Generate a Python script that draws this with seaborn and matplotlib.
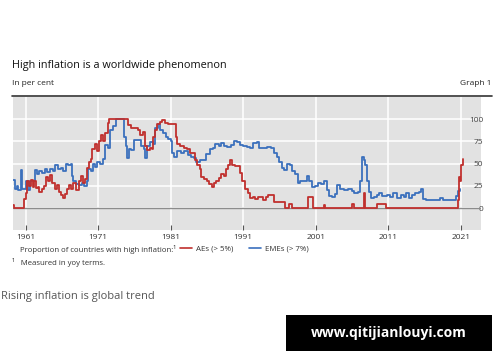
import pandas as pd
import matplotlib.pyplot as plt
import seaborn as sns
from matplotlib.lines import Line2D
from matplotlib.patches import Rectangle

# share of advanced economies with inflation above 5%
ae_years = [1959.3, 1959.4, 1960.5, 1960.8, 1961.0, 1961.2, 1961.5, 1961.8, 1962.0, 1962.2,
            1962.4, 1962.7, 1962.9, 1963.2, 1963.5, 1963.8, 1964.1, 1964.4, 1964.7, 1965.0,
            1965.3, 1965.6, 1965.9, 1966.2, 1966.4, 1966.7, 1967.0, 1967.3, 1967.6, 1968.0,
            1968.3, 1968.6, 1968.9, 1969.2, 1969.4, 1969.7, 1970.0, 1970.2, 1970.5, 1970.8,
            1971.1, 1971.4, 1971.7, 1972.0, 1972.3, 1972.5, 1975.0, 1975.1, 1975.5, 1976.0,
            1976.5, 1976.8, 1977.2, 1977.5, 1977.8, 1978.1, 1978.4, 1978.6, 1978.9, 1979.1,
            1979.5, 1979.8, 1980.2, 1980.6, 1981.1, 1981.5, 1981.7, 1981.9, 1982.3, 1982.8,
            1983.2, 1983.6, 1984.0, 1984.4, 1984.7, 1985.0, 1985.2, 1985.6, 1986.0, 1986.3,
            1986.7, 1987.0, 1987.3, 1987.7, 1988.0, 1988.3, 1988.6, 1988.9, 1989.2, 1989.5,
            1989.9, 1990.3, 1990.6, 1990.9, 1991.2, 1991.6, 1992.0, 1992.4, 1992.7, 1993.0,
            1993.5, 1993.8, 1994.2, 1994.4, 1995.1, 1995.3, 1996.6, 1996.8, 1997.3, 1997.7,
            1997.8, 1999.8, 1999.9, 2000.5, 2000.6, 2002.1, 2002.2, 2002.3, 2006.0, 2006.05,
            2006.3, 2006.35, 2007.4, 2007.6, 2007.8, 2009.4, 2009.5, 2010.6, 2010.7, 2020.4,
            2020.6, 2020.8, 2020.9, 2021.1, 2021.3]
ae_share = [4, 0, 0, 10, 17, 30, 25, 32, 24, 31,
            23, 24, 18, 22, 25, 35, 30, 37, 28, 22,
            26, 18, 15, 12, 16, 22, 26, 22, 28, 20,
            30, 36, 28, 33, 45, 52, 55, 66, 72, 64,
            75, 82, 75, 85, 96, 100, 100, 94, 90, 90,
            88, 82, 86, 70, 65, 68, 66, 80, 88, 95,
            97, 99, 96, 95, 95, 95, 80, 72, 70, 68,
            66, 62, 62, 54, 48, 44, 35, 33, 30, 27,
            24, 28, 30, 34, 38, 36, 44, 48, 54, 48,
            47, 47, 40, 30, 22, 17, 12, 13, 10, 13,
            13, 9, 13, 15, 15, 7.5, 7, 0, 5, 5,
            0, 0, 13, 13, 0, 0, 4, 0, 0, 5,
            5, 0, 0, 17, 0, 0, 5, 5, 0, 0,
            9, 35, 30, 48, 55]

# share of emerging market economies with inflation above 7%
eme_years = [1959.3, 1959.5, 1959.8, 1960.0, 1960.3, 1960.4, 1960.5, 1960.9, 1961.1, 1961.3,
             1961.6, 1962.0, 1962.3, 1962.6, 1962.9, 1963.3, 1963.7, 1964.0, 1964.4, 1964.8,
             1965.1, 1965.5, 1965.9, 1966.2, 1966.5, 1966.9, 1967.2, 1967.4, 1967.6, 1968.0,
             1968.4, 1968.8, 1969.1, 1969.4, 1969.6, 1970.0, 1970.3, 1970.6, 1970.9, 1971.3,
             1971.7, 1971.9, 1972.3, 1972.6, 1973.0, 1973.4, 1974.3, 1974.5, 1974.8, 1975.0,
             1975.2, 1975.6, 1975.9, 1976.4, 1976.9, 1977.3, 1977.5, 1977.8, 1978.2, 1978.6,
             1978.9, 1979.3, 1979.6, 1979.9, 1980.4, 1980.7, 1981.1, 1981.2, 1981.5, 1981.9,
             1982.4, 1982.9, 1983.4, 1983.8, 1984.2, 1984.5, 1985.0, 1985.5, 1985.9, 1986.4,
             1986.8, 1987.1, 1987.6, 1988.0, 1988.4, 1988.8, 1989.3, 1989.7, 1990.1, 1990.6,
             1991.0, 1991.5, 1992.0, 1992.4, 1992.9, 1993.2, 1993.8, 1994.3, 1994.9, 1995.3,
             1995.6, 1995.9, 1996.3, 1996.7, 1997.0, 1997.5, 1997.8, 1998.2, 1998.5, 1998.9,
             1999.3, 1999.8, 2000.1, 2000.5, 2000.9, 2001.3, 2001.7, 2002.1, 2002.5, 2002.9,
             2003.3, 2003.7, 2004.0, 2004.4, 2004.9, 2005.5, 2006.0, 2006.3, 2006.9, 2007.1,
             2007.4, 2007.6, 2007.8, 2008.1, 2008.4, 2008.6, 2009.0, 2009.4, 2009.7, 2010.2,
             2010.8, 2011.3, 2011.7, 2012.2, 2012.7, 2013.2, 2013.5, 2013.9, 2014.3, 2014.7,
             2015.2, 2015.5, 2015.8, 2016.2, 2017.5, 2018.2, 2018.6, 2019.5, 2020.1, 2020.3,
             2020.6, 2020.9]
eme_share = [32, 22, 25, 20, 28, 43, 22, 21, 30, 20,
             30, 30, 43, 38, 42, 40, 44, 41, 44, 42,
             48, 44, 45, 42, 50, 48, 50, 36, 30, 27,
             26, 28, 25, 30, 44, 42, 50, 46, 52, 50,
             55, 71, 68, 88, 92, 100, 100, 80, 70, 56,
             67, 65, 77, 77, 70, 66, 56, 70, 74, 72,
             90, 95, 88, 84, 80, 78, 76, 62, 58, 64,
             62, 64, 60, 57, 56, 52, 54, 54, 61, 66,
             68, 72, 70, 73, 70, 69, 71, 76, 74, 71,
             70, 69, 68, 73, 74, 68, 68, 69, 68, 62,
             57, 52, 45, 43, 50, 48, 42, 38, 28, 30,
             31, 36, 31, 24, 25, 28, 27, 30, 20, 14,
             13, 16, 26, 21, 20, 21, 19, 17, 18, 30,
             57, 54, 48, 30, 18, 11, 13, 15, 17, 14,
             15, 13, 17, 12, 15, 13, 17, 12, 15, 17,
             18, 21, 10, 9, 9, 12, 9, 9, 9, 14,
             19, 22]

year_ticks = [1961, 1971, 1981, 1991, 2001, 2011, 2021]
share_ticks = [0, 25, 50, 75, 100]

red = '#c0302e'
blue = '#3b70bd'

df = pd.concat([
    pd.DataFrame({'year': ae_years, 'share': ae_share, 'group': 'AEs (> 5%)'}),
    pd.DataFrame({'year': eme_years, 'share': eme_share, 'group': 'EMEs (> 7%)'}),
])

sns.set_style('darkgrid', {'axes.facecolor': '#e2e2e2', 'grid.color': 'white'})
plt.rcParams['font.family'] = ['Open Sans', 'DejaVu Sans']

fig = plt.figure(figsize=(5, 3.62), dpi=100)
ax = fig.add_axes([0.0266, 0.365, 0.9354, 0.367])

ax.axhline(0, color='#8c8c8c', lw=1.0, zorder=1)
sns.lineplot(data=df, x='year', y='share', hue='group', palette={'AEs (> 5%)': red, 'EMEs (> 7%)': blue},
             hue_order=['EMEs (> 7%)', 'AEs (> 5%)'], estimator=None, drawstyle='steps-post',
             lw=1.3, legend=False, ax=ax)

ax.set_xlim(1959.3, 2023.8)
ax.set_ylim(-24.4, 125)
ax.set_xticks(year_ticks)
ax.set_yticks(share_ticks)
ax.set_xlabel('')
ax.set_ylabel('')
ax.grid(True, color='white', lw=1.1)
for s in ax.spines.values():
    s.set_visible(False)
ax.tick_params(axis='x', bottom=True, direction='in', length=3.5, width=0.8, color='#555555',
               labelsize=6, labelcolor='#333333', pad=3)
ax.tick_params(axis='y', left=False, right=False, labelleft=False, labelright=True,
               labelsize=6, labelcolor='#444444', pad=-2)
for lab in ax.get_yticklabels():
    lab.set_horizontalalignment('right')

# header
fig.text(0.024, 0.82, 'High inflation is a worldwide phenomenon', fontsize=7.8, color='#111111', va='center')
fig.text(0.024, 0.768, 'In per cent', fontsize=6, color='#222222', va='center')
fig.text(0.982, 0.768, 'Graph 1', fontsize=6, color='#222222', va='center', ha='right')
fig.add_artist(Line2D([0.024, 0.984], [0.735, 0.735], color='#333333', lw=1.2))

# legend row
fig.text(0.04, 0.312, 'Proportion of countries with high inflation:¹', fontsize=5.6, color='#333333', va='center')
handles = [Line2D([], [], color=red, lw=1.2), Line2D([], [], color=blue, lw=1.2)]
fig.legend(handles, ['AEs (> 5%)', 'EMEs (> 7%)'], loc='center left', bbox_to_anchor=(0.345, 0.312),
           ncol=2, frameon=False, fontsize=5.7, handlelength=1.6, handletextpad=0.5,
           columnspacing=1.9, labelcolor='#333333')
fig.text(0.024, 0.276, '¹   Measured in yoy terms.', fontsize=5.6, color='#333333', va='center')

# caption under the image
fig.text(0.002, 0.18, 'Rising inflation is global trend', fontsize=8, color='#555555', va='center')

# watermark box
fig.add_artist(Rectangle((0.572, 0.031), 0.412, 0.099, transform=fig.transFigure,
                         facecolor='black', edgecolor='none'))
fig.text(0.778, 0.081, 'www.qitijianlouyi.com', fontsize=10, fontweight='bold', color='white',
         ha='center', va='center')

fig.savefig('out.png', dpi=100)
